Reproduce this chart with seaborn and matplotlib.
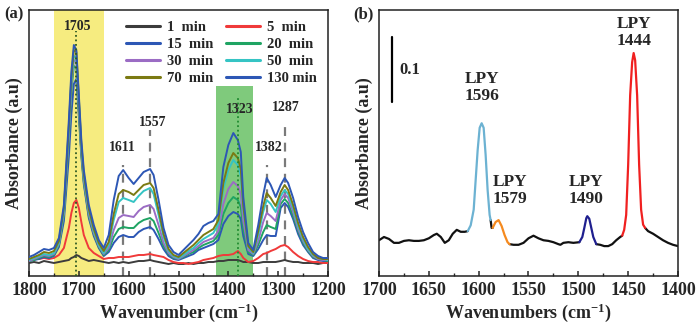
import numpy as np
import pandas as pd
import seaborn as sns
import matplotlib
matplotlib.use("Agg")
import matplotlib.pyplot as plt
from matplotlib.ticker import MultipleLocator

# ---------------- Panel (a) data ----------------
wn_a = [1800, 1790, 1780, 1770, 1760, 1750, 1740, 1730, 1720, 1715, 1710, 1705, 1700, 1695, 1690,
        1680, 1670, 1660, 1650, 1640, 1630, 1620, 1611, 1600, 1590, 1580, 1570, 1557, 1550, 1540,
        1530, 1520, 1510, 1500, 1490, 1480, 1470, 1460, 1450, 1440, 1430, 1420, 1410, 1400, 1390,
        1381, 1375, 1370, 1360, 1350, 1340, 1330, 1323, 1315, 1305, 1295, 1287, 1280, 1270, 1260,
        1250, 1240, 1230, 1220, 1210, 1200]

a_1min = [0.13, 0.14, 0.13, 0.15, 0.14, 0.13, 0.14, 0.15, 0.16, 0.18, 0.19, 0.21, 0.20, 0.18, 0.17,
          0.15, 0.16, 0.15, 0.14, 0.13, 0.14, 0.13, 0.14, 0.13, 0.14, 0.15, 0.15, 0.16, 0.15, 0.14,
          0.13, 0.12, 0.13, 0.12, 0.12, 0.13, 0.12, 0.13, 0.13, 0.14, 0.14, 0.15, 0.15, 0.16, 0.16,
          0.16, 0.15, 0.14, 0.14, 0.13, 0.13, 0.14, 0.14, 0.14, 0.14, 0.15, 0.16, 0.15, 0.14, 0.14,
          0.13, 0.13, 0.13, 0.12, 0.13, 0.13]
a_5min = [0.16, 0.17, 0.17, 0.18, 0.17, 0.18, 0.21, 0.28, 0.48, 0.63, 0.73, 0.76, 0.68, 0.54, 0.41,
          0.28, 0.23, 0.20, 0.17, 0.18, 0.18, 0.19, 0.19, 0.19, 0.20, 0.21, 0.21, 0.22, 0.21, 0.20,
          0.19, 0.16, 0.14, 0.13, 0.13, 0.12, 0.13, 0.14, 0.16, 0.17, 0.18, 0.20, 0.21, 0.21, 0.22,
          0.25, 0.22, 0.18, 0.14, 0.15, 0.18, 0.22, 0.23, 0.25, 0.27, 0.30, 0.31, 0.29, 0.24, 0.20,
          0.17, 0.15, 0.14, 0.14, 0.13, 0.13]
a_15min = [0.15, 0.16, 0.17, 0.19, 0.18, 0.20, 0.29, 0.55, 1.20, 1.62, 1.92, 1.97, 1.60, 1.20, 0.92,
           0.58, 0.40, 0.28, 0.20, 0.24, 0.33, 0.39, 0.41, 0.39, 0.39, 0.44, 0.47, 0.49, 0.46, 0.37,
           0.27, 0.20, 0.17, 0.16, 0.18, 0.20, 0.22, 0.26, 0.28, 0.30, 0.32, 0.36, 0.52, 0.60, 0.64,
           0.62, 0.57, 0.40, 0.22, 0.20, 0.27, 0.36, 0.41, 0.40, 0.40, 0.68, 0.73, 0.69, 0.57, 0.42,
           0.31, 0.24, 0.18, 0.16, 0.15, 0.15]
a_20min = [0.15, 0.16, 0.18, 0.20, 0.19, 0.21, 0.31, 0.61, 1.38, 1.85, 2.10, 2.08, 1.66, 1.23, 0.94,
           0.60, 0.42, 0.29, 0.21, 0.26, 0.39, 0.47, 0.49, 0.48, 0.48, 0.53, 0.56, 0.58, 0.55, 0.43,
           0.30, 0.22, 0.18, 0.17, 0.19, 0.22, 0.24, 0.28, 0.31, 0.33, 0.35, 0.41, 0.62, 0.73, 0.79,
           0.76, 0.69, 0.47, 0.24, 0.21, 0.31, 0.44, 0.51, 0.49, 0.47, 0.72, 0.77, 0.73, 0.60, 0.45,
           0.33, 0.25, 0.19, 0.17, 0.16, 0.15]
a_30min = [0.15, 0.17, 0.19, 0.21, 0.20, 0.22, 0.32, 0.63, 1.42, 1.90, 2.16, 2.14, 1.70, 1.26, 0.96,
           0.62, 0.43, 0.30, 0.22, 0.28, 0.46, 0.58, 0.61, 0.60, 0.59, 0.65, 0.69, 0.71, 0.67, 0.51,
           0.33, 0.23, 0.19, 0.17, 0.20, 0.23, 0.26, 0.30, 0.34, 0.36, 0.38, 0.45, 0.72, 0.87, 0.94,
           0.90, 0.82, 0.55, 0.26, 0.22, 0.35, 0.54, 0.63, 0.60, 0.55, 0.76, 0.82, 0.78, 0.64, 0.47,
           0.35, 0.26, 0.20, 0.17, 0.16, 0.16]
a_50min = [0.16, 0.18, 0.20, 0.22, 0.21, 0.23, 0.33, 0.65, 1.46, 1.94, 2.20, 2.18, 1.74, 1.29, 0.99,
           0.65, 0.45, 0.31, 0.23, 0.31, 0.56, 0.74, 0.78, 0.76, 0.74, 0.80, 0.85, 0.88, 0.82, 0.61,
           0.39, 0.25, 0.20, 0.18, 0.21, 0.25, 0.28, 0.33, 0.37, 0.40, 0.43, 0.52, 0.87, 1.06, 1.16,
           1.11, 1.00, 0.66, 0.29, 0.23, 0.41, 0.64, 0.76, 0.72, 0.64, 0.80, 0.86, 0.82, 0.68, 0.50,
           0.37, 0.27, 0.21, 0.18, 0.17, 0.16]
a_70min = [0.17, 0.19, 0.21, 0.24, 0.23, 0.25, 0.35, 0.68, 1.50, 1.98, 2.26, 2.24, 1.78, 1.32, 1.02,
           0.67, 0.47, 0.33, 0.25, 0.34, 0.62, 0.82, 0.86, 0.84, 0.81, 0.86, 0.91, 0.93, 0.88, 0.66,
           0.42, 0.27, 0.21, 0.19, 0.23, 0.27, 0.31, 0.36, 0.41, 0.44, 0.47, 0.56, 0.93, 1.13, 1.23,
           1.18, 1.07, 0.70, 0.30, 0.24, 0.45, 0.70, 0.83, 0.78, 0.70, 0.84, 0.91, 0.86, 0.71, 0.53,
           0.39, 0.29, 0.22, 0.18, 0.17, 0.17]
a_130min = [0.19, 0.21, 0.24, 0.27, 0.26, 0.28, 0.38, 0.71, 1.56, 2.04, 2.31, 2.26, 1.81, 1.36, 1.06,
            0.71, 0.51, 0.36, 0.28, 0.41, 0.76, 1.00, 1.06, 0.98, 0.92, 0.98, 1.04, 1.07, 1.01, 0.76,
            0.48, 0.31, 0.24, 0.21, 0.26, 0.31, 0.36, 0.42, 0.50, 0.53, 0.55, 0.62, 1.09, 1.31, 1.43,
            1.36, 1.24, 0.79, 0.33, 0.26, 0.51, 0.81, 0.98, 0.91, 0.79, 0.91, 0.98, 0.93, 0.78, 0.59,
            0.44, 0.33, 0.24, 0.20, 0.18, 0.18]

times = ["1  min", "5  min", "15  min", "20  min", "30  min", "50  min", "70  min", "130 min"]
series_a = [a_1min, a_5min, a_15min, a_20min, a_30min, a_50min, a_70min, a_130min]
colors_a = ["#3c3c3c", "#f03a3a", "#2d57b5", "#1fa463", "#9b6cc4", "#35c4c4", "#7b7a12", "#2d57b5"]

# annotation labels of panel (a)
ann_a_text = ["1705", "1611", "1557", "1323", "1382", "1287"]
ann_a_x = [1702, 1612, 1552, 1378, 1319, 1285]
ann_a_y = [2.50, 1.29, 1.54, 1.67, 1.29, 1.69]

# ---------------- Panel (b) data ----------------
b_segments = [
    ("base", [1700, 1695, 1690, 1685, 1680, 1675, 1670, 1665, 1660, 1655, 1650, 1645, 1642, 1638,
              1634, 1630, 1626, 1622, 1618, 1614, 1611],
             [0.055, 0.060, 0.057, 0.051, 0.051, 0.054, 0.055, 0.054, 0.054, 0.055, 0.058, 0.063,
              0.065, 0.060, 0.051, 0.055, 0.065, 0.071, 0.068, 0.068, 0.069]),
    ("1596", [1611, 1608, 1605, 1603, 1601, 1599, 1597, 1595, 1593, 1591, 1589, 1588],
             [0.069, 0.078, 0.102, 0.148, 0.194, 0.228, 0.235, 0.228, 0.186, 0.132, 0.094, 0.086]),
    ("base", [1588, 1587, 1586], [0.086, 0.074, 0.074]),
    ("1579", [1586, 1583, 1580, 1577, 1574, 1571, 1569],
             [0.074, 0.083, 0.086, 0.077, 0.063, 0.052, 0.049]),
    ("base", [1569, 1565, 1560, 1555, 1550, 1545, 1540, 1535, 1530, 1525, 1520, 1518, 1515, 1510,
              1505, 1499],
             [0.049, 0.048, 0.048, 0.051, 0.058, 0.062, 0.058, 0.055, 0.054, 0.052, 0.049, 0.048,
              0.051, 0.052, 0.051, 0.052]),
    ("1490", [1499, 1496, 1494, 1492, 1491, 1489, 1487, 1485, 1482],
             [0.052, 0.060, 0.074, 0.089, 0.092, 0.088, 0.074, 0.060, 0.049]),
    ("base", [1482, 1478, 1474, 1470, 1466, 1462, 1458, 1456],
             [0.049, 0.048, 0.046, 0.046, 0.049, 0.055, 0.060, 0.062]),
    ("1444", [1456, 1454, 1452, 1450, 1448, 1446, 1444.5, 1443, 1441, 1439, 1437, 1435, 1433],
             [0.062, 0.071, 0.094, 0.171, 0.278, 0.329, 0.343, 0.332, 0.278, 0.171, 0.102, 0.079,
              0.074]),
    ("base", [1433, 1430, 1425, 1420, 1415, 1410, 1405, 1400],
             [0.074, 0.069, 0.065, 0.060, 0.055, 0.051, 0.048, 0.046]),
]
b_colors = {"base": "#111111", "1596": "#6cb2d2", "1579": "#f58a1f",
            "1490": "#1f1f8f", "1444": "#f02020"}
b_labels = ["LPY\n1596", "LPY\n1579", "LPY\n1490", "LPY\n1444"]
b_label_x = [1597, 1569, 1492, 1444]
b_label_y = [0.290, 0.132, 0.132, 0.375]

# ---------------- Style ----------------
sns.set_style("ticks")
plt.rcParams["font.family"] = ["Liberation Serif", "DejaVu Serif"]
plt.rcParams["font.weight"] = "bold"
plt.rcParams["axes.labelweight"] = "bold"
plt.rcParams["mathtext.fontset"] = "custom"
plt.rcParams["mathtext.rm"] = "Liberation Serif:bold"
plt.rcParams["mathtext.it"] = "Liberation Serif:bold"
plt.rcParams["mathtext.bf"] = "Liberation Serif:bold"
plt.rcParams["mathtext.default"] = "rm"

fig = plt.figure(figsize=(7.0, 3.35), dpi=100)
axA = fig.add_axes([29 / 700, 59 / 335, 299 / 700, 266 / 335])
axB = fig.add_axes([379 / 700, 59 / 335, 299 / 700, 266 / 335])

# ---------------- Panel (a) ----------------
rows = []
for t, vals in zip(times, series_a):
    for w, v in zip(wn_a, vals):
        rows.append({"wn": w, "A": v, "time": t})
dfa = pd.DataFrame(rows)

axA.axvspan(1750, 1650, color="#f6ec80", zorder=0, lw=0)
axA.axvspan(1425, 1350, ymin=0, ymax=1.90 / 2.66, color="#7fca7c", zorder=0, lw=0)

sns.lineplot(data=dfa, x="wn", y="A", hue="time", hue_order=times, palette=colors_a,
             estimator=None, sort=False, lw=1.4, legend=False, ax=axA, zorder=3)

# reference lines
axA.plot([1705, 1705], [0, 2.45], ls=(0, (1, 1.5)), color="#2f5a22", lw=1.3, zorder=4)
axA.plot([1381, 1381], [0, 1.80], ls=(0, (1, 1.5)), color="#1f8a2f", lw=1.3, zorder=4)
for x, top in zip([1611, 1557, 1323, 1287], [1.11, 1.46, 1.11, 1.51]):
    axA.plot([x, x], [0, top], ls=(0, (4, 3)), color="#7a7a7a", lw=1.6, zorder=2)

for txt, x, y in zip(ann_a_text, ann_a_x, ann_a_y):
    axA.text(x, y, txt, ha="center", va="center", fontsize=10, fontweight="bold", zorder=5)

handles = axA.lines[:8]
order = [0, 2, 4, 6, 1, 3, 5, 7]
leg = axA.legend([handles[i] for i in order], [times[i] for i in order], ncol=2,
                 frameon=False, fontsize=10.5, handlelength=2.3, handletextpad=0.5,
                 columnspacing=0.9, labelspacing=0.25, loc="upper right",
                 bbox_to_anchor=(1.0, 1.0), borderaxespad=0.35)
for line in leg.get_lines():
    line.set_linewidth(2.2)

axA.set_xlim(1800, 1200)
axA.set_ylim(0, 2.66)
axA.xaxis.set_major_locator(MultipleLocator(100))
axA.xaxis.set_minor_locator(MultipleLocator(50))
axA.set_yticks([])
axA.set_xlabel("Wavenumber (cm$^{-1}$)", fontsize=13, labelpad=2)
axA.set_ylabel("Absorbance (a.u)", fontsize=13, labelpad=4)

# ---------------- Panel (b) ----------------
rows = []
for k, (band, xs, ys) in enumerate(b_segments):
    for w, v in zip(xs, ys):
        rows.append({"wn": w, "A": v, "band": band, "seg": k})
dfb = pd.DataFrame(rows)
sns.lineplot(data=dfb, x="wn", y="A", hue="band", units="seg", palette=b_colors,
             estimator=None, sort=False, lw=1.6, legend=False, ax=axB)

for txt, x, y in zip(b_labels, b_label_x, b_label_y):
    axB.text(x, y, txt, ha="center", va="center", fontsize=12.5, fontweight="bold",
             linespacing=1.1)

axB.plot([1687, 1687], [0.268, 0.368], color="black", lw=1.6)
axB.text(1680, 0.317, "0.1", ha="left", va="center", fontsize=12, fontweight="bold")

axB.set_xlim(1700, 1400)
axB.set_ylim(0, 266 / 650)
axB.xaxis.set_major_locator(MultipleLocator(50))
axB.xaxis.set_minor_locator(MultipleLocator(25))
axB.set_yticks([])
axB.set_xlabel("Wavenumbers (cm$^{-1}$)", fontsize=13, labelpad=2)
axB.set_ylabel("Absorbance (a.u)", fontsize=13, labelpad=4)

for ax in (axA, axB):
    for s in ax.spines.values():
        s.set_visible(True)
        s.set_linewidth(1.1)
        s.set_color("#222222")
    ax.tick_params(axis="x", which="major", direction="in", length=3.5, width=1.1,
                   labelsize=13, pad=4, top=False)
    ax.tick_params(axis="x", which="minor", direction="in", length=2, width=1.0, top=False)
    for lab in ax.get_xticklabels():
        lab.set_fontweight("bold")

fig.text(4 / 700, 1 - 14 / 335, "(a)", fontsize=12, fontweight="bold", va="center", ha="left")
fig.text(353 / 700, 1 - 14 / 335, "(b)", fontsize=12, fontweight="bold", va="center", ha="left")

fig.savefig("out.png", dpi=100)
